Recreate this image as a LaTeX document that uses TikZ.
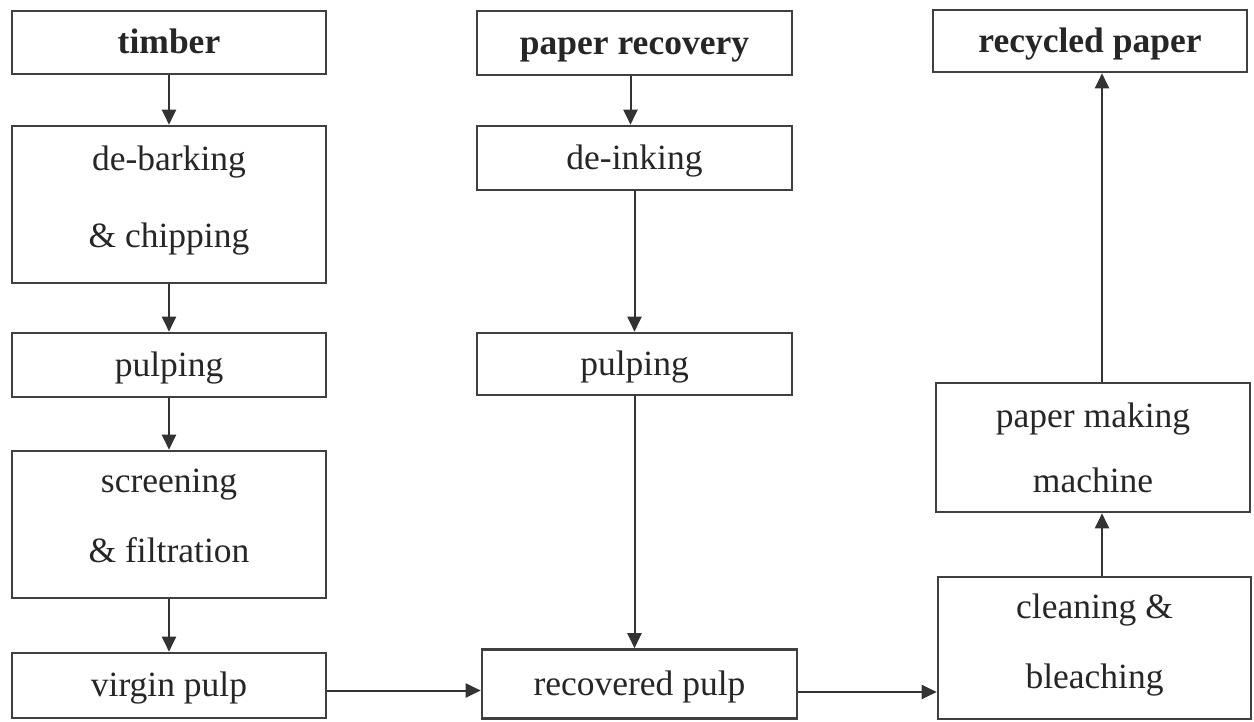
\documentclass[tikz,border=0pt]{standalone}
\usepackage{fontspec}
\setmainfont{Liberation Serif}
\usetikzlibrary{arrows.meta}
\begin{document}
\begin{tikzpicture}[x=1pt,y=-1pt,
    font=\fontsize{35.5}{70}\selectfont,
    box/.style={draw=black!75,line width=2.6pt,rectangle,align=center,
      inner sep=0pt,text=black!85},
    oneline/.style={box,text height=27pt,text depth=5pt},
    flow/.style={draw=black!80,line width=2pt,-{Triangle[length=15pt,width=14pt]}}]
  \useasboundingbox (0,0) rectangle (1254,721);
  % virgin fibre column
  \node[oneline,minimum width=314pt,minimum height=63pt] (timber) at (169,42.5) {\textbf{timber}};
  \node[box,text depth=16pt,minimum width=314pt,minimum height=157pt] (debark) at (169,204.5) {de-barking\\[7pt]\& chipping};
  \node[oneline,minimum width=314pt,minimum height=64pt] (pulpL) at (169,365) {pulping};
  \node[box,text depth=17pt,minimum width=314pt,minimum height=147pt] (screen) at (169,524.5) {screening\\\& filtration};
  \node[oneline,minimum width=314pt,minimum height=65pt] (virgin) at (169,685.5) {virgin pulp};
  % recovered paper column
  \node[oneline,minimum width=315pt,minimum height=64pt] (recov) at (634.5,43) {\textbf{paper recovery}};
  \node[oneline,minimum width=315pt,minimum height=64pt] (deink) at (634.5,158) {de-inking};
  \node[oneline,minimum width=315pt,minimum height=62pt] (pulpM) at (634.5,364) {pulping};
  \node[oneline,minimum width=315pt,minimum height=69pt] (recpulp) at (639.5,684) {recovered pulp};
  % paper machine column
  \node[oneline,minimum width=314pt,minimum height=62pt] (recycled) at (1090,41) {\textbf{recycled paper}};
  \node[box,text depth=-8pt,minimum width=314pt,minimum height=129pt] (machine) at (1093,447.5) {paper making\\[-5pt]machine};
  \node[box,text depth=14pt,minimum width=313pt,minimum height=142pt] (clean) at (1094.5,648) {cleaning \&\\bleaching};
  % arrows
  \foreach \a/\b in {timber/debark,debark/pulpL,pulpL/screen,screen/virgin}
    \draw[flow] (\a) -- (\b);
  \draw[flow] ([xshift=-4pt]recov.south) -- ([xshift=-4pt]recov.south |- deink.north);
  \draw[flow] (deink) -- (pulpM);
  \draw[flow] (pulpM.south) -- (pulpM.south |- recpulp.north);
  \draw[flow] ([yshift=-5pt]virgin.east) -- ([yshift=-5pt]virgin.east -| recpulp.west);
  \draw[flow] ([yshift=-8pt]recpulp.east) -- ([yshift=-8pt]recpulp.east -| clean.west);
  \draw[flow] ([xshift=7.5pt]clean.north) -- ([xshift=7.5pt]clean.north |- machine.south);
  \draw[flow] ([xshift=9pt]machine.north) -- ([xshift=9pt]machine.north |- recycled.south);
\end{tikzpicture}
\end{document}
